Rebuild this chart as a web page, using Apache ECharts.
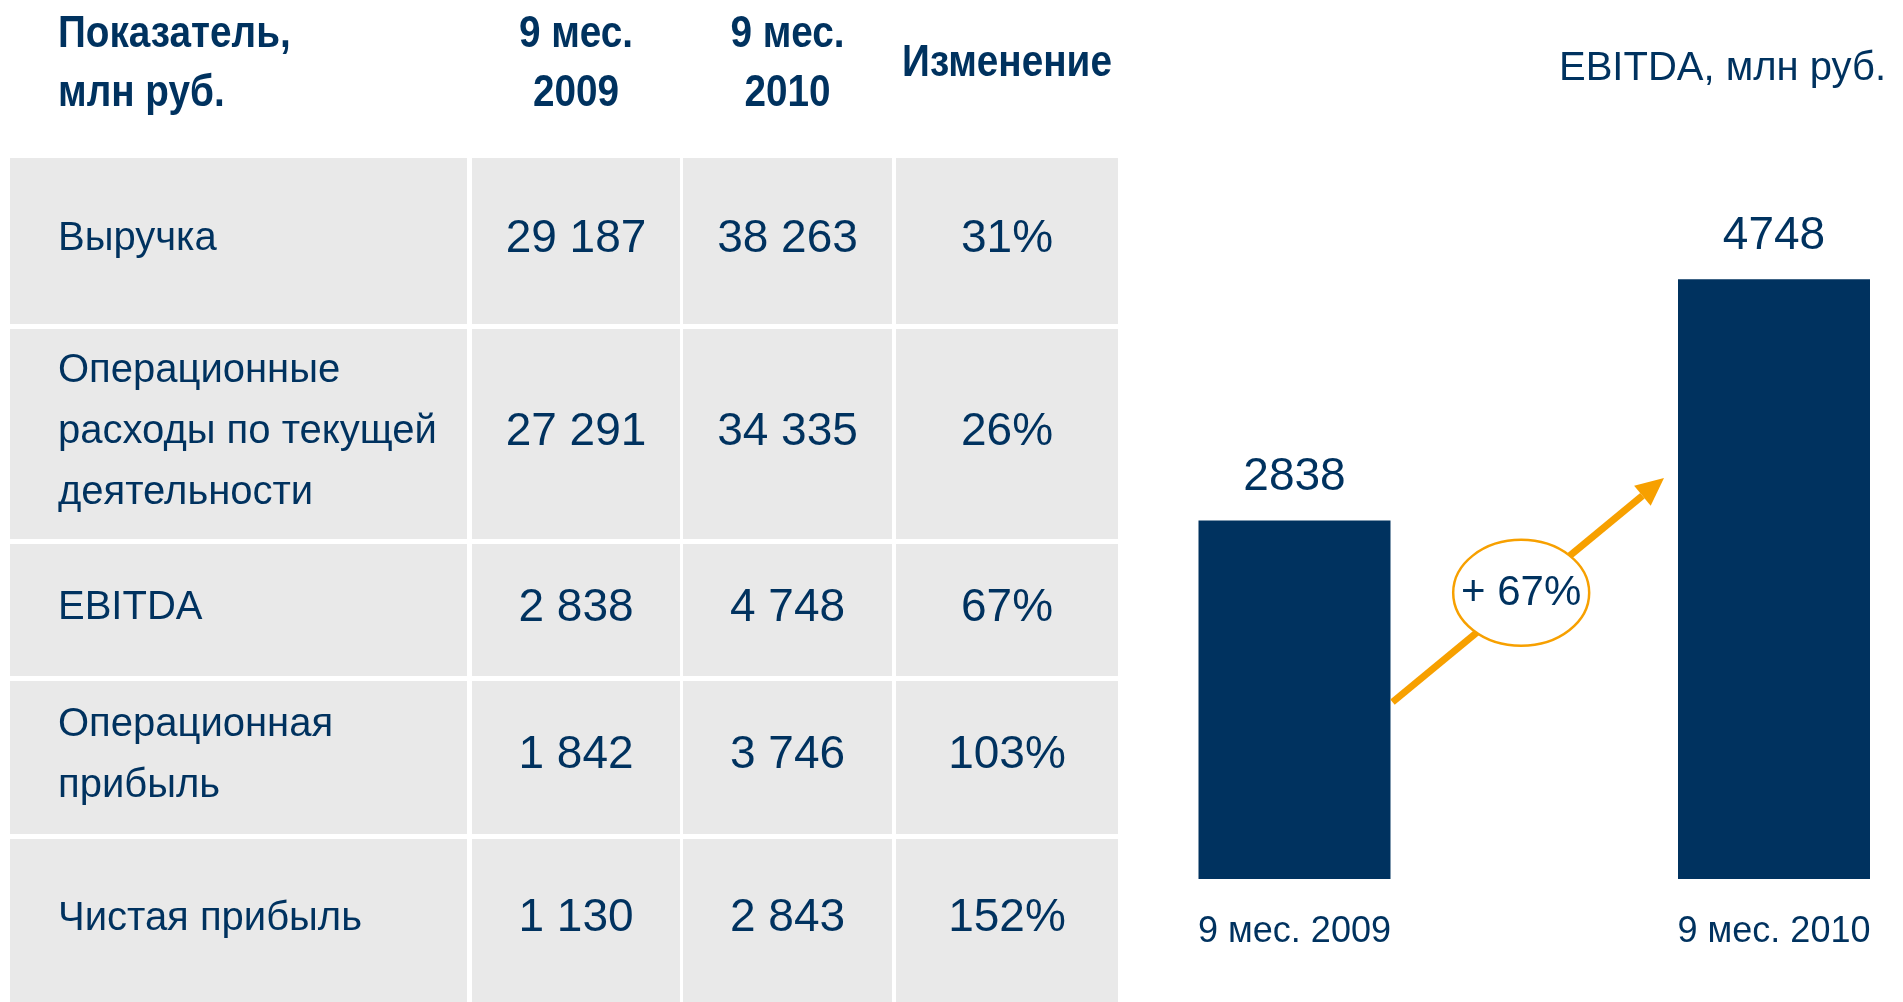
<!DOCTYPE html>
<html>
<head>
<meta charset="utf-8">
<script src="https://cdn.jsdelivr.net/npm/echarts@6/dist/echarts.min.js"></script>
<style>
html, body { margin: 0; padding: 0; background: #fff; }
#main { width: 1903px; height: 1002px; }
</style>
</head>
<body>
<div id="main"></div>
<script>
// table data
var headers = ['Показатель,\nмлн руб.', '9 мес.\n2009', '9 мес.\n2010', 'Изменение'];
var rowLabels = ['Выручка', 'Операционные\nрасходы по текущей\nдеятельности', 'EBITDA', 'Операционная\nприбыль', 'Чистая прибыль'];
var val2009 = [29187, 27291, 2838, 1842, 1130];
var val2010 = [38263, 34335, 4748, 3746, 2843];
var changePct = [31, 26, 67, 103, 152];

// chart data
var periods = ['9 мес. 2009', '9 мес. 2010'];
var ebitda = [2838, 4748];
var growthText = '+ 67%';

var navy = '#00325F';
var orange = '#F7A000';
var regular = "'Liberation Sans', Arial, sans-serif";

function fmt(n) {
    return String(n).replace(/\B(?=(\d{3})+(?!\d))/g, ' ');
}

var chart = echarts.init(document.getElementById('main'));

var option = {
    backgroundColor: '#fff',
    animation: false,
    title: {
        text: 'EBITDA, млн руб.',
        right: 12,
        top: 44,
        textStyle: { fontSize: 40, fontWeight: 'normal', fontFamily: regular, color: navy }
    },
    grid: { left: 1294.5, right: 129, top: 121, bottom: 123 },
    xAxis: {
        type: 'category',
        data: periods,
        boundaryGap: false,
        axisLine: { show: false },
        axisTick: { show: false },
        splitLine: { show: false },
        axisLabel: { fontSize: 36, fontFamily: regular, color: navy, margin: 35 }
    },
    yAxis: { type: 'value', min: 0, max: 6000, show: false },
    series: [{
        type: 'bar',
        data: ebitda,
        barWidth: 192,
        clip: false,
        itemStyle: { color: navy },
        label: { show: true, position: 'top', distance: 20, fontSize: 46, fontFamily: regular, color: navy }
    }]
};
chart.setOption(option);

// table drawn as graphic elements
var colX = [[10, 467], [472, 680], [683, 892], [896, 1118]];
var rowY = [[158, 324], [329, 539], [544, 676], [681, 834], [839, 1002]];
var els = [];

for (var c = 0; c < headers.length; c++) {
    els.push({
        type: 'text', silent: true,
        x: c === 0 ? 58 : (colX[c][0] + colX[c][1]) / 2,
        y: 64,
        scaleX: 0.86,
        style: {
            text: headers[c], fill: navy, fontSize: 45, fontWeight: 'bold', fontFamily: regular,
            align: c === 0 ? 'left' : 'center', verticalAlign: 'middle', lineHeight: 59
        }
    });
}

for (var r = 0; r < rowLabels.length; r++) {
    var cells = [rowLabels[r], fmt(val2009[r]), fmt(val2010[r]), changePct[r] + '%'];
    var cy = (rowY[r][0] + rowY[r][1]) / 2 - 2;
    for (var c = 0; c < 4; c++) {
        els.push({
            type: 'rect', silent: true, z: 1,
            shape: { x: colX[c][0], y: rowY[r][0], width: colX[c][1] - colX[c][0], height: rowY[r][1] - rowY[r][0] },
            style: { fill: '#E9E9E9' }
        });
        els.push({
            type: 'text', silent: true, z: 2,
            x: c === 0 ? 58 : (colX[c][0] + colX[c][1]) / 2,
            y: cy,
            style: {
                text: cells[c], fill: navy, fontFamily: regular,
                fontSize: c === 0 ? 40 : 46,
                align: c === 0 ? 'left' : 'center', verticalAlign: 'middle', lineHeight: 61
            }
        });
    }
}

// growth arrow between the bars
var half = 96;
var p0 = chart.convertToPixel({ gridIndex: 0 }, [0, 1400]);
var p1 = chart.convertToPixel({ gridIndex: 0 }, [1, 3175]);
var S = [p0[0] + half + 2, p0[1]];
var T = [p1[0] - half - 14, p1[1]];
var dx = T[0] - S[0], dy = T[1] - S[1];
var len = Math.sqrt(dx * dx + dy * dy);
var ux = dx / len, uy = dy / len;
var nx = -uy, ny = ux;
var B = [T[0] - 28 * ux, T[1] - 28 * uy];
els.push({
    type: 'line', silent: true, z: 5,
    shape: { x1: S[0], y1: S[1], x2: B[0], y2: B[1] },
    style: { stroke: orange, lineWidth: 7 }
});
els.push({
    type: 'polygon', silent: true, z: 5,
    shape: { points: [T, [B[0] + 13 * nx, B[1] + 13 * ny], [B[0] - 13 * nx, B[1] - 13 * ny]] },
    style: { fill: orange }
});
var t = 0.474;
var E = [S[0] + t * dx, S[1] + t * dy - 3];
els.push({
    type: 'ellipse', silent: true, z: 6,
    shape: { cx: E[0], cy: E[1], rx: 68, ry: 53 },
    style: { fill: '#fff', stroke: orange, lineWidth: 2.5 }
});
els.push({
    type: 'text', silent: true, z: 7,
    x: E[0], y: E[1] + 1,
    style: { text: growthText, fill: navy, fontSize: 42, fontFamily: regular, align: 'center', verticalAlign: 'middle' }
});

chart.setOption({ graphic: els });
</script>
</body>
</html>
